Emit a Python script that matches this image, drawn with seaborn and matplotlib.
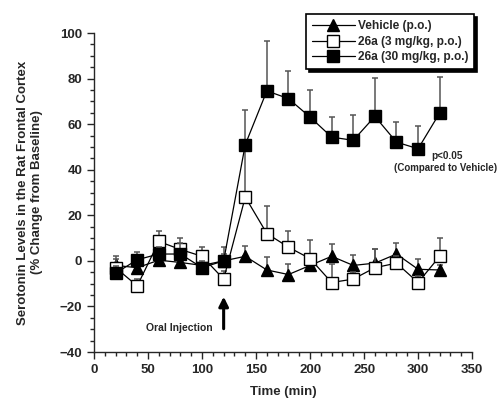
import matplotlib
matplotlib.use('Agg')
import matplotlib.pyplot as plt
import pandas as pd
import seaborn as sns
from matplotlib.ticker import MultipleLocator

time_min = [20, 40, 60, 80, 100, 120, 140, 160, 180, 200, 220, 240, 260, 280, 300, 320]

vehicle = [-2, -3, 0.3, -0.7, -2, 0, 2, -4, -6, -2, 2, -2, -1, 3, -3.7, -4]
vehicle_err = [3, 3, 3, 3, 3, 3, 4.5, 5.5, 4.5, 3, 5.5, 4.5, 6, 5, 4.5, 2]

low_dose = [-3, -11, 8.5, 5, 2, -8, 28, 12, 6, 1, -9.5, -8, -3, -1, -9.5, 2]
low_dose_err = [5, 3, 4.5, 5, 4, 3.5, 20, 12, 7, 8, 8, 3, 8, 3, 3, 8]

high_dose = [-5.4, 0.5, 3, 3, -3, 0, 51, 74.6, 71.2, 63.1, 54.3, 52.9, 63.4, 52.1, 49.2, 64.9]
high_dose_err = [3, 3.5, 3, 5, 3, 6, 15, 22, 12, 12, 9, 11, 17, 9, 10, 16]

series_names = ['Vehicle (p.o.)', '26a (3 mg/kg, p.o.)', '26a (30 mg/kg, p.o.)']


def build_frame():
    rows = []
    for name, vals, errs in zip(series_names,
                                [vehicle, low_dose, high_dose],
                                [vehicle_err, low_dose_err, high_dose_err]):
        for t, v, e in zip(time_min, vals, errs):
            rows.append({'time': t, 'value': v, 'err': e, 'group': name})
    return pd.DataFrame(rows)


def main():
    sns.set_style('ticks')
    plt.rcParams['font.family'] = ['Liberation Sans', 'DejaVu Sans']
    plt.rcParams['font.weight'] = 'bold'
    plt.rcParams['axes.labelweight'] = 'bold'

    df = build_frame()
    fig = plt.figure(figsize=(4.98, 4.04), dpi=100)
    ax = fig.add_axes([0.1888, 0.1287, 0.7592, 0.7896])

    styles = {
        series_names[0]: dict(marker='^', markersize=8, markerfacecolor='black'),
        series_names[1]: dict(marker='s', markersize=8, markerfacecolor='white'),
        series_names[2]: dict(marker='s', markersize=8.8, markerfacecolor='black'),
    }

    for i, name in enumerate(series_names):
        sub = df[df['group'] == name]
        # one-sided (upward) error bars, drawn under the markers
        ax.errorbar(sub['time'], sub['value'], yerr=[[0] * len(sub), sub['err']],
                    fmt='none', ecolor='#555555', elinewidth=1.1, capsize=2.5,
                    capthick=1.1, zorder=2 + i)
        sns.lineplot(data=sub, x='time', y='value', ax=ax, color='black',
                     linewidth=0.9, markeredgecolor='black', markeredgewidth=1.0,
                     label=name, zorder=3 + i, **styles[name])

    ax.set_xlim(0, 350)
    ax.set_ylim(-40, 100)
    ax.xaxis.set_major_locator(MultipleLocator(50))
    ax.xaxis.set_minor_locator(MultipleLocator(10))
    ax.yaxis.set_major_locator(MultipleLocator(20))
    ax.yaxis.set_minor_locator(MultipleLocator(5))
    ax.tick_params(which='major', length=5, width=1, labelsize=9.5, direction='out')
    ax.tick_params(which='minor', length=3, width=1, direction='out')
    for lab in ax.get_xticklabels() + ax.get_yticklabels():
        lab.set_fontweight('bold')
    sns.despine(ax=ax)
    ax.spines['left'].set_linewidth(1)
    ax.spines['bottom'].set_linewidth(1)

    ax.set_xlabel('Time (min)', fontsize=9.5, labelpad=7)
    ax.set_ylabel('Serotonin Levels in the Rat Frontal Cortex\n(% Change from Baseline)',
                  fontsize=9.5, labelpad=12)

    # injection marker
    ax.annotate('', xy=(120, -14.5), xytext=(120, -31),
                arrowprops=dict(arrowstyle='-|>', color='black', lw=2.2,
                                mutation_scale=14))
    ax.text(110, -29.5, 'Oral Injection', ha='right', va='center', fontsize=7.5,
            fontweight='bold')

    ax.text(327, 46, 'p<0.05', ha='center', va='center', fontsize=7.2, fontweight='bold')
    ax.text(325, 40.6, '(Compared to Vehicle)', ha='center', va='center', fontsize=7,
            fontweight='bold', clip_on=False)

    leg = ax.legend(loc='upper right', bbox_to_anchor=(1.015, 1.07), frameon=True,
                    fancybox=False, shadow={'color': 'black', 'alpha': 1},
                    fontsize=8.6, handlelength=3.6, borderpad=0.5, labelspacing=0.3,
                    handletextpad=0.25, borderaxespad=0.3)
    leg.get_frame().set_edgecolor('black')
    leg.get_frame().set_linewidth(1.2)
    leg.get_frame().set_alpha(1)
    for t in leg.get_texts():
        t.set_fontweight('bold')

    fig.savefig('out.png', dpi=100)


if __name__ == '__main__':
    main()
